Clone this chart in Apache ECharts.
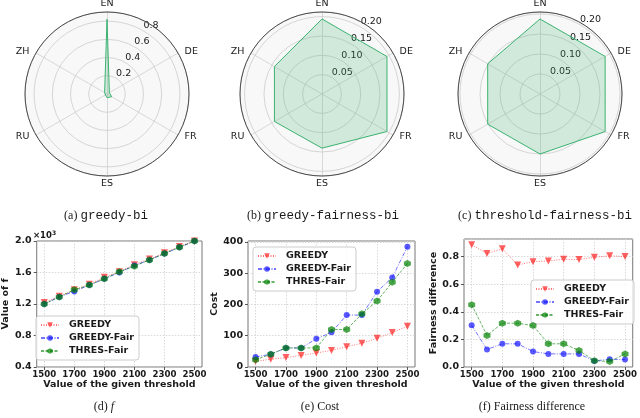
<!DOCTYPE html>
<html><head><meta charset="utf-8">
<script src="https://cdn.jsdelivr.net/npm/echarts@6/dist/echarts.min.js"></script>
<style>html,body{margin:0;padding:0;background:#fff}#c{width:640px;height:418px}</style>
</head><body><div id="c"></div>
<script>
// ---- Radar data (order: EN, ZH, RU, ES, FR, DE) ----
const languages = ['EN', 'ZH', 'RU', 'ES', 'FR', 'DE'];
const greedyBi = [0.82, 0.03, 0.02, 0.04, 0.06, 0.03];
const greedyFairnessBi = [0.194, 0.142, 0.142, 0.140, 0.194, 0.194];
const thresholdFairnessBi = [0.1875, 0.151, 0.151, 0.150, 0.188, 0.188];
const radarMax = [0.9, 0.212, 0.205];
const radarStep = [0.2, 0.05, 0.05];
const radarDecimals = [1, 2, 2];
const radarCaptions = [
  ['(a)', 'greedy-bi'],
  ['(b)', 'greedy-fairness-bi'],
  ['(c)', 'threshold-fairness-bi']
];

// ---- Line chart data ----
const thresholds = [1500, 1600, 1700, 1800, 1900, 2000, 2100, 2200, 2300, 2400, 2500];
const xTickLabels = [1500, 1700, 1900, 2100, 2300, 2500];
const seriesNames = ['GREEDY', 'GREEDY-Fair', 'THRES-Fair'];
const fGreedy = [1220, 1298, 1380, 1450, 1540, 1610, 1700, 1770, 1850, 1930, 2000];
const fGreedyFair = [1200, 1290, 1360, 1440, 1520, 1600, 1690, 1760, 1840, 1920, 2000];
const fThresFair = [1200, 1290, 1380, 1440, 1520, 1610, 1680, 1760, 1840, 1920, 2000];
const costGreedy = [18, 25, 30, 37, 45, 53, 65, 76, 92, 110, 130];
const costGreedyFair = [32, 41, 61, 61, 90, 111, 166, 166, 241, 286, 385];
const costThresFair = [23, 41, 61, 61, 61, 120, 120, 170, 211, 271, 331];
const fdGreedy = [0.885, 0.822, 0.856, 0.739, 0.763, 0.768, 0.780, 0.778, 0.795, 0.805, 0.800];
const fdGreedyFair = [0.302, 0.127, 0.168, 0.168, 0.112, 0.095, 0.095, 0.095, 0.044, 0.056, 0.054];
const fdThresFair = [0.451, 0.229, 0.317, 0.317, 0.300, 0.168, 0.168, 0.120, 0.046, 0.039, 0.095];

const chart = echarts.init(document.getElementById('c'), null, {renderer: 'canvas'});

const radarData = [greedyBi, greedyFairnessBi, thresholdFairnessBi];
const radarCenters = [[107, 94], [322, 94], [540, 94]];
const R = 82;
const TXT = '#1a1a1a';
const SANS = 'DejaVu Sans';

const radars = radarData.map((d, k) => ({
  center: radarCenters[k], radius: R, startAngle: 90, shape: 'circle', splitNumber: 1,
  indicator: languages.map(n => ({name: n, min: 0, max: radarMax[k]})),
  axisName: {color: TXT, fontSize: 9.5, fontFamily: SANS, padding: [0, 4]},
  nameGap: 3,
  axisLine: {lineStyle: {color: '#cfcfcf', width: 0.8}},
  splitLine: {show: false},
  splitArea: {show: true, areaStyle: {color: ['#f8f8f8']}},
  axisTick: {show: false}, axisLabel: {show: false},
  z: 0
}));

const polars = radarCenters.map(c => ({center: c, radius: R}));
const angleAxes = radarCenters.map((c, k) => ({
  polarIndex: k, type: 'value', min: 0, max: 360, startAngle: 60,
  axisLine: {show: true, lineStyle: {color: '#4a4a4a', width: 1}},
  axisTick: {show: false}, axisLabel: {show: false}, splitLine: {show: false}, z: 3
}));
const radiusAxes = radarCenters.map((c, k) => ({
  polarIndex: k, type: 'value', min: 0, max: radarMax[k], interval: radarStep[k],
  axisLine: {show: false}, axisTick: {show: false},
  splitLine: {show: true, lineStyle: {color: '#cccccc', width: 0.8}},
  axisLabel: {
    margin: 0, align: 'left', verticalAlign: 'bottom', showMinLabel: false, showMaxLabel: false,
    fontSize: 9.5, fontFamily: SANS, color: TXT,
    formatter: v => v.toFixed(radarDecimals[k])
  },
  z: 1
}));

// ---- grids ----
const grids = [
  {left: 32, top: 241, width: 170, height: 126},
  {left: 248, top: 241, width: 167, height: 126},
  {left: 464, top: 239, width: 171, height: 128}
].map(g => Object.assign(g, {show: true, borderColor: '#777', borderWidth: 1, backgroundColor: 'transparent'}));

const boldTxt = {fontFamily: SANS, fontWeight: 'bold', color: TXT};
const gridLine = {show: true, lineStyle: {color: '#cfcfcf', width: 0.8, type: [1.5, 1.5]}};

const xAxes = [0, 1, 2].map(k => ({
  gridIndex: k, type: 'value', min: 1450, max: 2550,
  axisLine: {show: false},
  axisTick: {show: true, customValues: xTickLabels, length: 3, lineStyle: {color: '#555'}},
  axisLabel: Object.assign({customValues: xTickLabels, fontSize: 8.6, margin: 3, formatter: v => String(v)}, boldTxt),
  splitLine: gridLine,
  name: 'Value of the given threshold', nameLocation: 'middle', nameGap: 13,
  nameTextStyle: Object.assign({fontSize: 9.5}, boldTxt)
}));

const yCommon = {
  type: 'value', axisLine: {show: false},
  axisTick: {show: true, length: 3, lineStyle: {color: '#555'}},
  splitLine: gridLine, nameLocation: 'middle', nameRotate: 90,
  nameTextStyle: Object.assign({fontSize: 9.5}, boldTxt)
};
const yAxes = [
  Object.assign({}, yCommon, {gridIndex: 0, min: 400, max: 2000, interval: 400, name: 'Value of f', nameGap: 19,
    axisLabel: Object.assign({fontSize: 9.5, margin: 5, formatter: v => (v / 1000).toFixed(1)}, boldTxt)}),
  Object.assign({}, yCommon, {gridIndex: 1, min: 0, max: 403, interval: 100, name: 'Cost', nameGap: 23,
    axisLabel: Object.assign({fontSize: 9.5, margin: 5, showMaxLabel: false}, boldTxt)}),
  Object.assign({}, yCommon, {gridIndex: 2, min: 0, max: 0.927, interval: 0.2, name: 'Fairness difference', nameGap: 22,
    axisLabel: Object.assign({fontSize: 9.5, margin: 5, showMaxLabel: false, formatter: v => v.toFixed(1)}, boldTxt)})
];

const styles = {
  'GREEDY': {line: 'rgba(255,0,0,0.55)', mark: 'rgba(255,30,30,0.7)', type: [1, 1.5],
    symbol: 'path://M0,0L2,0L1,1.75Z', size: 7},
  'GREEDY-Fair': {line: 'rgba(0,0,255,0.55)', mark: 'rgba(20,20,255,0.7)', type: [4, 1.5, 1, 1.5],
    symbol: 'circle', size: 6},
  'THRES-Fair': {line: 'rgba(0,128,0,0.6)', mark: 'rgba(0,128,0,0.7)', type: [3, 1.5],
    symbol: 'path://M-0.866,-0.5L0,-1L0.866,-0.5L0.866,0.5L0,1L-0.866,0.5Z', size: 7}
};

const lineSets = [
  [fGreedy, fGreedyFair, fThresFair],
  [costGreedy, costGreedyFair, costThresFair],
  [fdGreedy, fdGreedyFair, fdThresFair]
];

const lineSeries = [];
lineSets.forEach((set, k) => {
  set.forEach((vals, j) => {
    const name = seriesNames[j];
    const s = styles[name];
    lineSeries.push({
      type: 'line', name: name, xAxisIndex: k, yAxisIndex: k,
      data: thresholds.map((t, i) => [t, vals[i]]),
      symbol: s.symbol, symbolSize: s.size, showSymbol: true,
      lineStyle: {color: s.line, width: 1, type: s.type},
      itemStyle: {color: s.mark, borderWidth: 0},
      emphasis: {disabled: true}, animation: false, z: 3 + j
    });
  });
});

const radarSeries = radarData.map((d, k) => ({
  type: 'radar', radarIndex: k, symbol: 'none',
  data: [{value: d, name: 'r' + k}],
  lineStyle: {color: '#3CB371', width: 1},
  areaStyle: {color: 'rgba(60,179,113,0.3)'},
  itemStyle: {color: '#3CB371'}, animation: false, z: 2
}));

const legendCommon = {
  orient: 'vertical', itemWidth: 18, itemHeight: 7, itemGap: 3,
  padding: [4, 5, 4, 4], backgroundColor: 'rgba(255,255,255,0.8)',
  borderColor: '#cccccc', borderWidth: 1, borderRadius: 3,
  textStyle: Object.assign({fontSize: 9.5, padding: [0, 0, 0, 5]}, boldTxt),
  data: seriesNames, selectedMode: false
};
const legends = [
  Object.assign({left: 36, top: 316}, legendCommon),
  Object.assign({left: 253, top: 247}, legendCommon),
  Object.assign({left: 531, top: 280}, legendCommon)
];

const capRich = {
  p: {fontFamily: 'Liberation Serif', fontSize: 12, fontWeight: 'normal', color: TXT},
  m: {fontFamily: 'Liberation Mono', fontSize: 12.5, fontWeight: 'normal', color: TXT},
  i: {fontFamily: 'Liberation Serif', fontSize: 12, fontWeight: 'normal', fontStyle: 'italic', color: TXT}
};
const capStyle = {fontWeight: 'normal', fontFamily: 'Liberation Serif', fontSize: 12, color: TXT, rich: capRich};
const captionCenters = [106, 323, 545];
const titles = radarCaptions.map((c, k) => ({
  text: '{p|' + c[0] + '} {m|' + c[1] + '}', left: captionCenters[k], top: 209, textAlign: 'center',
  padding: 0, textStyle: capStyle
}));
titles.push(
  {text: '{p|(d)} {i|f}', left: 104, top: 401, textAlign: 'center', padding: 0, textStyle: capStyle},
  {text: '{p|(e) Cost}', left: 320, top: 401, textAlign: 'center', padding: 0, textStyle: capStyle},
  {text: '{p|(f) Fairness difference}', left: 532, top: 401, textAlign: 'center', padding: 0, textStyle: capStyle},
  {text: '×10{s|3}', left: 33, top: 230, padding: 0,
    textStyle: {fontFamily: SANS, fontSize: 8.5, fontWeight: 'bold', color: TXT,
      rich: {s: {fontFamily: SANS, fontSize: 6, fontWeight: 'bold', color: TXT, padding: [0, 0, 5, 0]}}}}
);

chart.setOption({
  animation: false,
  backgroundColor: '#ffffff',
  title: titles,
  radar: radars,
  polar: polars,
  angleAxis: angleAxes,
  radiusAxis: radiusAxes,
  grid: grids,
  xAxis: xAxes,
  yAxis: yAxes,
  legend: legends,
  series: radarSeries.concat(lineSeries)
});
</script>
</body></html>
